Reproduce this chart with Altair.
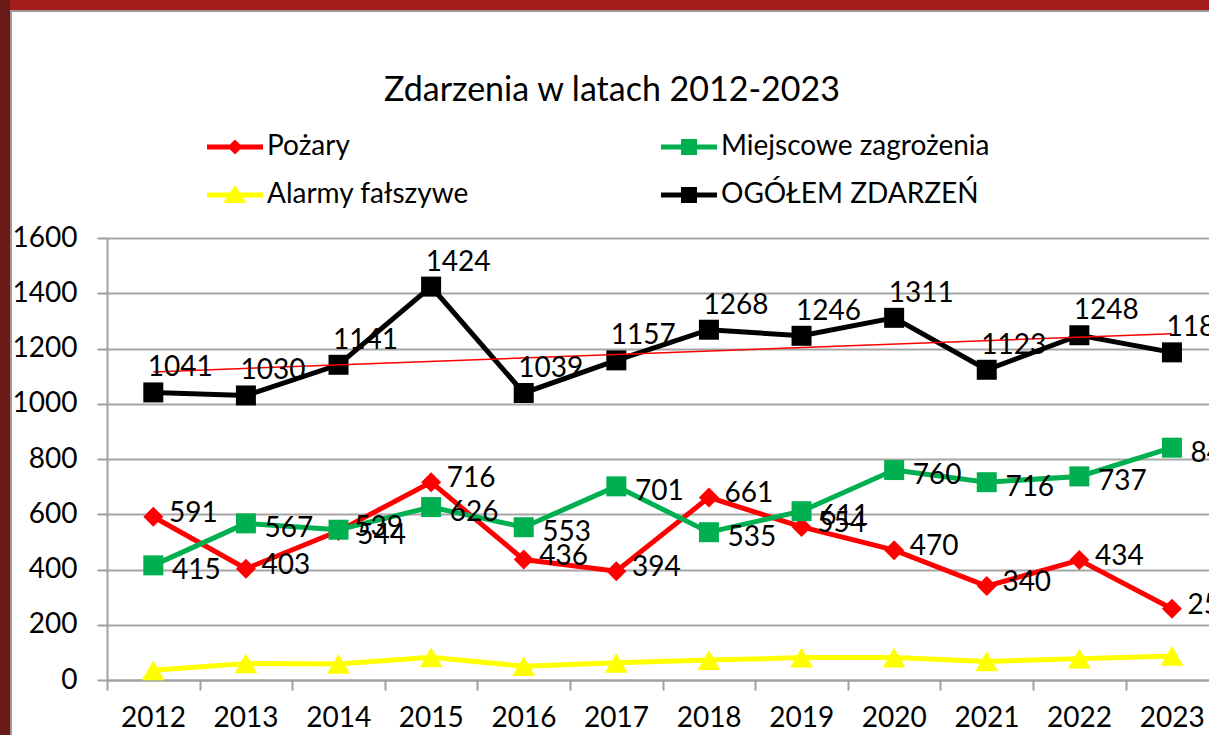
import altair as alt
import pandas as pd

# ---- data ----
years = list(range(2012, 2024))
pozary = [591, 403, 539, 716, 436, 394, 661, 554, 470, 340, 434, 258]
miejscowe = [415, 567, 544, 626, 553, 701, 535, 611, 760, 716, 737, 841]
alarmy = [35, 60, 58, 82, 50, 62, 72, 81, 81, 67, 77, 87]
ogolem = [1041, 1030, 1141, 1424, 1039, 1157, 1268, 1246, 1311, 1123, 1248, 1186]

series_names = ["Pożary", "Miejscowe zagrożenia", "Alarmy fałszywe", "OGÓŁEM ZDARZEŃ"]
series_values = [pozary, miejscowe, alarmy, ogolem]
colors = ["#FF0000", "#00B050", "#FFFF00", "#000000"]
y_ticks = [0, 200, 400, 600, 800, 1000, 1200, 1400, 1600]
x_bounds = [y - 0.5 for y in years]

rows = []
for name, vals in zip(series_names, series_values):
    for yr, v in zip(years, vals):
        rows.append({"rok": yr, "seria": name, "liczba": v})
df = pd.DataFrame(rows)

W, H = 1102, 442
FONT = "Lato"
FS = 28

x_enc = alt.X("rok:Q",
              scale=alt.Scale(domain=[2011.5, 2023.4], nice=False, zero=False),
              axis=alt.Axis(values=x_bounds, labelExpr="format(datum.value + 0.5, 'd')",
                            labelOffset=46, labelFlush=False, labelOverlap=False,
                            labelBound=False, grid=False, title=None,
                            tickSize=10, labelPadding=14, domainColor="#A0A0A0",
                            domainWidth=2, tickColor="#A0A0A0", tickWidth=2))
y_enc = alt.Y("liczba:Q",
              scale=alt.Scale(domain=[0, 1600], nice=False),
              axis=alt.Axis(values=y_ticks, format="d", grid=True, gridColor="#A6A6A6",
                            gridWidth=2, title=None, tickSize=10, labelPadding=20,
                            domainColor="#A0A0A0", domainWidth=2,
                            tickColor="#A0A0A0", tickWidth=2))

color_scale = alt.Scale(domain=series_names, range=colors)

# legend symbols: a line segment with the series marker on it
legend_paths = [
    "M-1.4,-0.13H1.4V0.13H-1.4Z M0,-0.38L0.38,0L0,0.38L-0.38,0Z",
    "M-1.4,-0.13H1.4V0.13H-1.4Z M-0.4,-0.4H0.4V0.4H-0.4Z",
    "M-1.4,-0.13H1.4V0.13H-1.4Z M0,-0.5L0.58,0.4H-0.58Z",
    "M-1.4,-0.13H1.4V0.13H-1.4Z M-0.4,-0.4H0.4V0.4H-0.4Z",
]

legend = alt.Legend(
    orient="none", direction="horizontal", legendX=108, legendY=-111, columns=2,
    columnPadding=192, rowPadding=14, title=None, labelFont=FONT, labelFontSize=FS,
    labelColor="black", labelLimit=400, symbolSize=1600, labelOffset=12,
    symbolStrokeWidth=0)

base = alt.Chart(df)

# legend carrier (first layer): draws nothing, provides the legend from the scales
legend_layer = base.transform_filter("false").mark_point(filled=True, opacity=1).encode(
    x=x_enc, y=y_enc,
    color=alt.Color("seria:N", scale=color_scale, legend=legend),
    shape=alt.Shape("seria:N", scale=alt.Scale(domain=series_names, range=legend_paths),
                    legend=legend))

lines = base.mark_line(strokeWidth=5).encode(
    x=x_enc, y=y_enc,
    color=alt.Color("seria:N", scale=color_scale),
    detail="seria:N")

marker_expr = ("datum.seria === 'Pożary' ? 'diamond' : "
               "datum.seria === 'Alarmy fałszywe' ? 'triangle-up' : 'square'")
size_expr = "datum.seria === 'Alarmy fałszywe' ? 520 : 400"

points = base.transform_calculate(marker=marker_expr, rozmiar=size_expr).mark_point(
    filled=True, opacity=1).encode(
    x=x_enc, y=y_enc,
    color=alt.Color("seria:N", scale=color_scale),
    shape=alt.Shape("marker:N", scale=None, legend=None),
    size=alt.Size("rozmiar:Q", scale=None, legend=None))

trend = base.transform_filter(
    alt.datum.seria == "OGÓŁEM ZDARZEŃ"
).transform_regression("rok", "liczba").mark_line(color="#FF0000", strokeWidth=1.5).encode(
    x="rok:Q", y="liczba:Q")

def labels(name, dx, dy):
    return base.transform_filter(alt.datum.seria == name).mark_text(
        font=FONT, fontSize=FS, color="black", dx=dx, dy=dy, align="center", baseline="middle"
    ).encode(x="rok:Q", y="liczba:Q", text="liczba:Q")

# slide frame (decoration)
one = alt.Data(values=[{}])
frame_top = alt.Chart(one).mark_rect(color="#A51B1B").encode(
    x=alt.value(-107), x2=alt.value(W), y=alt.value(-238), y2=alt.value(-228))
frame_left = alt.Chart(one).mark_rect(color="#6A1A16").encode(
    x=alt.value(-107), x2=alt.value(-97), y=alt.value(-238), y2=alt.value(H + 55))
edge_top = alt.Chart(one).mark_rule(color="#9A9A9A", strokeWidth=2).encode(
    x=alt.value(-97), x2=alt.value(W), y=alt.value(-227))
edge_left = alt.Chart(one).mark_rule(color="#9A9A9A", strokeWidth=2).encode(
    x=alt.value(-96), y=alt.value(-227), y2=alt.value(H + 55))

chart = alt.layer(
    legend_layer,
    frame_top, frame_left, edge_top, edge_left,
    lines, points, trend,
    labels("Pożary", 40, -3),
    labels("Miejscowe zagrożenia", 43, 6),
    labels("OGÓŁEM ZDARZEŃ", 27, -24),
).properties(
    width=W, height=H,
    title=alt.TitleParams("Zdarzenia w latach 2012-2023", font=FONT, fontSize=34,
                          fontWeight="normal", color="black", anchor="middle",
                          frame="group", dx=-46, offset=-108),
    autosize=alt.AutoSizeParams(type="none"),
    padding={"left": 107, "top": 238, "right": 0, "bottom": 55},
    background="white",
).configure_view(stroke="transparent").configure_axis(
    labelFont=FONT, labelFontSize=FS, labelColor="black"
)

chart.save("out.html", embed_options={"renderer": "svg", "actions": False})
